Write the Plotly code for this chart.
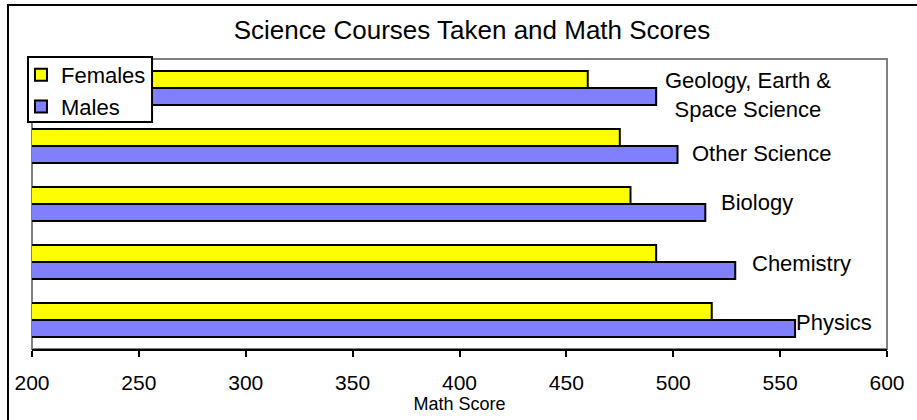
import plotly.graph_objects as go

# course categories, listed top to bottom as in the chart
courses = ["Geology, Earth &<br>Space Science", "Other Science", "Biology", "Chemistry", "Physics"]
females = [460, 475, 480, 492, 518]
males = [492, 502, 515, 529, 557]
x_ticks = [200, 250, 300, 350, 400, 450, 500, 550, 600]

# label nudges in pixels (style only)
label_dx = [7, 12, 14, 15, -1]
label_dy = [-7, -7, 2, -1, -2]

FONT = "Liberation Sans, Arial, sans-serif"

fig = go.Figure()
fig.add_trace(go.Bar(y=courses, x=females, orientation='h', name='Females',
                     marker=dict(color='#FFFF00', line=dict(color='black', width=2))))
fig.add_trace(go.Bar(y=courses, x=males, orientation='h', name='Males',
                     marker=dict(color='#8080FF', line=dict(color='black', width=2))))

# category labels placed just right of the male bars
for c, m, dx, dy in zip(courses, males, label_dx, label_dy):
    fig.add_annotation(x=m, y=c, text=c, showarrow=False, xanchor='left', yanchor='middle',
                       align='center', xshift=dx, yshift=dy,
                       font=dict(family=FONT, size=22, color='black'))

# plot-area border, outer frame, and the legend box
fig.add_shape(type='rect', xref='x domain', yref='y domain', x0=0, x1=1, y0=0, y1=1,
              line=dict(color='#808080', width=2), layer='below')
fig.add_shape(type='rect', xref='paper', yref='paper', x0=-0.0281, x1=1.05, y0=-0.3, y1=1.1862,
              line=dict(color='black', width=2), layer='below')
fig.add_shape(type='rect', xref='paper', yref='paper', x0=-0.0047, x1=0.1404, y0=0.7828, y1=1.0069,
              line=dict(color='black', width=2), fillcolor='white', layer='above')

fig.update_layout(
    width=917, height=420,
    margin=dict(l=32, r=30, t=59, b=71),
    paper_bgcolor='white', plot_bgcolor='white',
    font=dict(family=FONT, color='black'),
    title=dict(text='Science Courses Taken and Math Scores', font=dict(size=26),
               x=0.5147, xanchor='center', y=0.93, yanchor='middle'),
    barmode='group', bargap=0.41, bargroupgap=0,
    showlegend=True,
    legend=dict(x=-0.0129, y=1.0172, xanchor='left', yanchor='top',
                bgcolor='rgba(0,0,0,0)', borderwidth=0,
                font=dict(size=22)),
)
fig.update_xaxes(range=[200, 600], tickvals=x_ticks, showgrid=False, zeroline=False,
                 showline=True, linecolor='black', linewidth=2,
                 ticks='outside', ticklen=6, tickwidth=2, tickcolor='black',
                 tickfont=dict(size=21), ticklabelstandoff=8,
                 title=dict(text='Math Score', font=dict(size=18), standoff=2))
fig.update_yaxes(type='category', categoryorder='array', categoryarray=courses,
                 range=[4.5, -0.5], autorange=False, showticklabels=False, showgrid=False,
                 zeroline=False, showline=False, ticks='')

fig.write_html("out.html", post_script="document.body.style.margin='0';",
               config={'displayModeBar': False})
